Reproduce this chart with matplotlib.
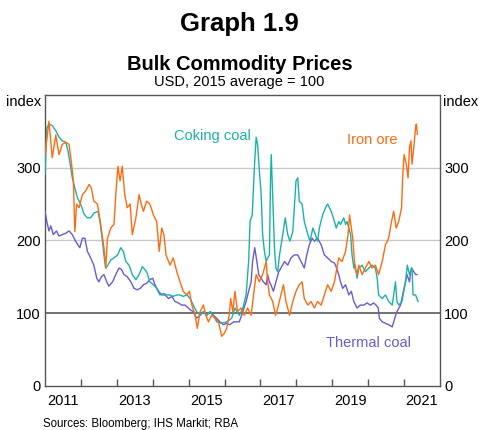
import matplotlib
matplotlib.use("Agg")
import matplotlib.pyplot as plt
from matplotlib.ticker import FixedLocator, NullFormatter

plt.rcParams["font.family"] = ["Liberation Sans", "DejaVu Sans"]

# ---- data (index, 2015 average = 100) ----
iron_x = [2011.00, 2011.065, 2011.11, 2011.20, 2011.30, 2011.39, 2011.48, 2011.58, 2011.67, 2011.73,
          2011.79, 2011.83, 2011.88, 2011.95, 2012.04, 2012.13, 2012.23, 2012.29, 2012.36, 2012.46,
          2012.55, 2012.64, 2012.69, 2012.74, 2012.83, 2012.92, 2012.97, 2013.03, 2013.09, 2013.15,
          2013.22, 2013.29, 2013.37, 2013.43, 2013.53, 2013.62, 2013.68, 2013.74, 2013.83, 2013.92,
          2014.02, 2014.11, 2014.18, 2014.25, 2014.31, 2014.37, 2014.48, 2014.57, 2014.67, 2014.76,
          2014.85, 2014.95, 2015.02, 2015.09, 2015.18, 2015.24, 2015.32, 2015.41, 2015.48, 2015.55,
          2015.64, 2015.74, 2015.83, 2015.92, 2015.99, 2016.06, 2016.13, 2016.17, 2016.23, 2016.29,
          2016.36, 2016.46, 2016.55, 2016.64, 2016.74, 2016.83, 2016.88, 2016.97, 2017.06, 2017.16,
          2017.20, 2017.25, 2017.34, 2017.42, 2017.48, 2017.57, 2017.64, 2017.71, 2017.81, 2017.90,
          2017.99, 2018.08, 2018.16, 2018.22, 2018.32, 2018.41, 2018.50, 2018.59, 2018.69, 2018.78,
          2018.87, 2018.97, 2019.06, 2019.18, 2019.27, 2019.37, 2019.44, 2019.48, 2019.53, 2019.57,
          2019.63, 2019.69, 2019.74, 2019.83, 2019.92, 2020.02, 2020.11, 2020.20, 2020.29, 2020.39,
          2020.48, 2020.57, 2020.65, 2020.71, 2020.78, 2020.85, 2020.93, 2020.96, 2021.00, 2021.06,
          2021.11, 2021.15, 2021.19, 2021.22, 2021.27, 2021.32, 2021.34, 2021.37]
iron_y = [318, 345, 364, 314, 345, 318, 332, 335, 332, 309,
          282, 212, 250, 245, 263, 268, 277, 272, 254, 250,
          222, 190, 162, 203, 217, 222, 263, 302, 282, 302,
          263, 245, 250, 208, 231, 263, 250, 240, 254, 250,
          235, 226, 185, 217, 208, 180, 166, 176, 157, 143,
          130, 125, 130, 111, 97, 79, 102, 111, 97, 88,
          97, 93, 88, 68, 72, 79, 97, 120, 102, 130,
          102, 107, 97, 107, 97, 134, 153, 143, 153, 171,
          143, 125, 116, 97, 107, 125, 139, 116, 97, 116,
          130, 139, 143, 120, 111, 116, 107, 116, 111, 125,
          139, 130, 143, 176, 171, 185, 208, 235, 217, 203,
          162, 153, 166, 153, 162, 171, 162, 166, 153, 171,
          194, 203, 226, 240, 217, 226, 245, 286, 318, 305,
          286, 328, 337, 305, 328, 355, 360, 346]

coking_x = [2011.00, 2011.05, 2011.11, 2011.20, 2011.30, 2011.39, 2011.48, 2011.58, 2011.64, 2011.70,
            2011.76, 2011.83, 2011.90, 2011.99, 2012.09, 2012.18, 2012.27, 2012.37, 2012.48, 2012.53,
            2012.60, 2012.64, 2012.69, 2012.75, 2012.83, 2012.92, 2013.02, 2013.11, 2013.18, 2013.25,
            2013.34, 2013.43, 2013.53, 2013.62, 2013.71, 2013.83, 2013.92, 2014.02, 2014.11, 2014.20,
            2014.30, 2014.39, 2014.48, 2014.57, 2014.67, 2014.76, 2014.85, 2014.95, 2015.04, 2015.13,
            2015.22, 2015.32, 2015.41, 2015.50, 2015.60, 2015.69, 2015.78, 2015.92, 2016.06, 2016.20,
            2016.29, 2016.41, 2016.51, 2016.60, 2016.67, 2016.71, 2016.77, 2016.80, 2016.84, 2016.88,
            2016.92, 2016.97, 2017.02, 2017.06, 2017.11, 2017.16, 2017.20, 2017.25, 2017.28, 2017.30,
            2017.34, 2017.39, 2017.43, 2017.48, 2017.53, 2017.62, 2017.69, 2017.76, 2017.82, 2017.90,
            2017.99, 2018.04, 2018.08, 2018.16, 2018.22, 2018.32, 2018.38, 2018.46, 2018.53, 2018.59,
            2018.64, 2018.73, 2018.81, 2018.87, 2018.97, 2019.03, 2019.11, 2019.18, 2019.23, 2019.32,
            2019.37, 2019.41, 2019.46, 2019.51, 2019.55, 2019.60, 2019.64, 2019.69, 2019.74, 2019.83,
            2019.92, 2020.02, 2020.11, 2020.20, 2020.25, 2020.29, 2020.39, 2020.48, 2020.57, 2020.67,
            2020.76, 2020.80, 2020.85, 2020.94, 2021.04, 2021.09, 2021.15, 2021.22, 2021.25, 2021.32,
            2021.36, 2021.39]
coking_y = [291, 355, 360, 358, 351, 342, 337, 335, 323, 305,
            286, 272, 259, 250, 236, 231, 231, 238, 240, 226,
            199, 180, 162, 166, 173, 176, 180, 190, 185, 171,
            166, 153, 146, 153, 164, 157, 143, 139, 134, 125,
            127, 125, 125, 123, 125, 125, 123, 125, 120, 111,
            102, 97, 102, 97, 102, 97, 88, 86, 88, 93,
            107, 97, 107, 125, 171, 226, 235, 268, 309, 342,
            332, 295, 263, 208, 185, 171, 176, 180, 286, 318,
            263, 190, 162, 157, 180, 208, 231, 208, 199, 212,
            282, 286, 254, 250, 226, 208, 199, 217, 208, 199,
            217, 235, 245, 250, 240, 231, 217, 226, 222, 231,
            222, 226, 217, 208, 180, 162, 166, 148, 162, 166,
            157, 162, 166, 162, 148, 125, 120, 125, 116, 111,
            143, 116, 111, 116, 143, 166, 153, 162, 125, 125,
            120, 116]

thermal_x = [2011.00, 2011.05, 2011.11, 2011.16, 2011.23, 2011.32, 2011.39, 2011.48, 2011.58, 2011.67,
             2011.76, 2011.85, 2011.97, 2012.04, 2012.11, 2012.18, 2012.27, 2012.36, 2012.44, 2012.50,
             2012.57, 2012.64, 2012.72, 2012.78, 2012.88, 2012.97, 2013.06, 2013.13, 2013.20, 2013.29,
             2013.39, 2013.48, 2013.57, 2013.65, 2013.74, 2013.83, 2013.92, 2014.00, 2014.06, 2014.16,
             2014.25, 2014.34, 2014.44, 2014.53, 2014.62, 2014.71, 2014.81, 2014.90, 2014.99, 2015.06,
             2015.13, 2015.22, 2015.32, 2015.41, 2015.50, 2015.60, 2015.69, 2015.78, 2015.87, 2015.97,
             2016.06, 2016.15, 2016.25, 2016.34, 2016.41, 2016.51, 2016.60, 2016.67, 2016.74, 2016.78,
             2016.84, 2016.90, 2016.95, 2017.02, 2017.08, 2017.16, 2017.20, 2017.25, 2017.29, 2017.36,
             2017.43, 2017.51, 2017.57, 2017.67, 2017.76, 2017.85, 2017.94, 2018.04, 2018.13, 2018.22,
             2018.29, 2018.36, 2018.44, 2018.50, 2018.59, 2018.69, 2018.78, 2018.87, 2018.97, 2019.06,
             2019.09, 2019.18, 2019.23, 2019.29, 2019.37, 2019.46, 2019.53, 2019.60, 2019.69, 2019.78,
             2019.88, 2019.97, 2020.06, 2020.15, 2020.22, 2020.28, 2020.31, 2020.39, 2020.48, 2020.57,
             2020.67, 2020.74, 2020.80, 2020.90, 2020.96, 2021.02, 2021.08, 2021.15, 2021.20, 2021.27,
             2021.32, 2021.36]
thermal_y = [240, 226, 213, 220, 208, 213, 206, 208, 210, 213,
             208, 199, 190, 203, 203, 185, 176, 166, 148, 143,
             150, 153, 143, 137, 143, 153, 162, 160, 153, 150,
             143, 134, 132, 134, 139, 141, 146, 148, 139, 130,
             125, 125, 120, 123, 116, 114, 111, 111, 107, 104,
             102, 93, 97, 102, 97, 102, 97, 93, 88, 84,
             86, 84, 88, 88, 88, 102, 116, 130, 143, 171,
             190, 171, 153, 148, 143, 139, 153, 143, 139, 130,
             143, 157, 162, 171, 166, 176, 180, 180, 171, 162,
             180, 194, 203, 199, 203, 194, 180, 176, 171, 169,
             166, 153, 143, 134, 139, 125, 130, 116, 107, 111,
             111, 114, 111, 114, 111, 107, 93, 88, 86, 84,
             81, 93, 102, 111, 125, 139, 153, 143, 162, 157,
             153, 153]

y_ticks = [0, 100, 200, 300]
year_labels = ["2011", "2013", "2015", "2017", "2019", "2021"]

# ---- styling ----
c_iron = "#FF6A10"
c_coking = "#1AB2A8"
c_thermal = "#6A5BCF"
grid_c = "#C9C9C9"
frame_c = "#555555"

fig = plt.figure(figsize=(4.79, 4.30), dpi=100)
ax = fig.add_axes([0.094, 0.1028, 0.8246, 0.6762])

ax.plot(thermal_x, thermal_y, color=c_thermal, lw=1.0, zorder=3)
ax.plot(coking_x, coking_y, color=c_coking, lw=1.0, zorder=4)
ax.plot(iron_x, iron_y, color=c_iron, lw=1.0, zorder=5)

ax.set_xlim(2011.0, 2022.0)
ax.set_ylim(0, 400)

for v in [200, 300]:
    ax.axhline(v, color=grid_c, lw=1.0, zorder=1)
ax.axhline(100, color="#5a5a5a", lw=1.2, zorder=2)

for s in ax.spines.values():
    s.set_color(frame_c)
    s.set_linewidth(1.0)

# x ticks: marks at year boundaries, labels at mid-year of odd years
ax.xaxis.set_major_locator(FixedLocator(list(range(2012, 2022))))
ax.xaxis.set_major_formatter(NullFormatter())
ax.tick_params(axis="x", which="major", direction="in", length=5, width=1.0, color=frame_c)
label_pos = [int(y) + 0.5 for y in year_labels]
ax.xaxis.set_minor_locator(FixedLocator(label_pos))
ax.set_xticklabels(year_labels, minor=True)
ax.tick_params(axis="x", which="minor", length=0, labelsize=10.5, pad=6)

ax.set_yticks(y_ticks)
ax.set_yticklabels([str(t) for t in y_ticks])
ax.tick_params(axis="y", which="both", length=0, labelsize=10.5, pad=3,
               left=True, right=True, labelleft=True, labelright=True)

# "index" labels
fig.text(0.012, 0.763, "index", fontsize=10.5, ha="left", va="center")
fig.text(0.998, 0.763, "index", fontsize=10.5, ha="right", va="center")

# series labels
ax.text(2015.65, 343, "Coking coal", color=c_coking, fontsize=10.5, ha="center", va="center")
ax.text(2020.1, 338, "Iron ore", color=c_iron, fontsize=10.5, ha="center", va="center")
ax.text(2020.0, 59, "Thermal coal", color=c_thermal, fontsize=10.5, ha="center", va="center")

# titles
fig.text(0.5, 0.945, "Graph 1.9", fontsize=18.5, fontweight="bold", ha="center", va="center")
fig.text(0.5, 0.849, "Bulk Commodity Prices", fontsize=14.5, fontweight="bold", ha="center", va="center")
fig.text(0.5, 0.809, "USD, 2015 average = 100", fontsize=10.5, ha="center", va="center")

# source
fig.text(0.090, 0.014, "Sources: Bloomberg; IHS Markit; RBA", fontsize=8.3, ha="left", va="center")

fig.savefig("out.png", dpi=100)
